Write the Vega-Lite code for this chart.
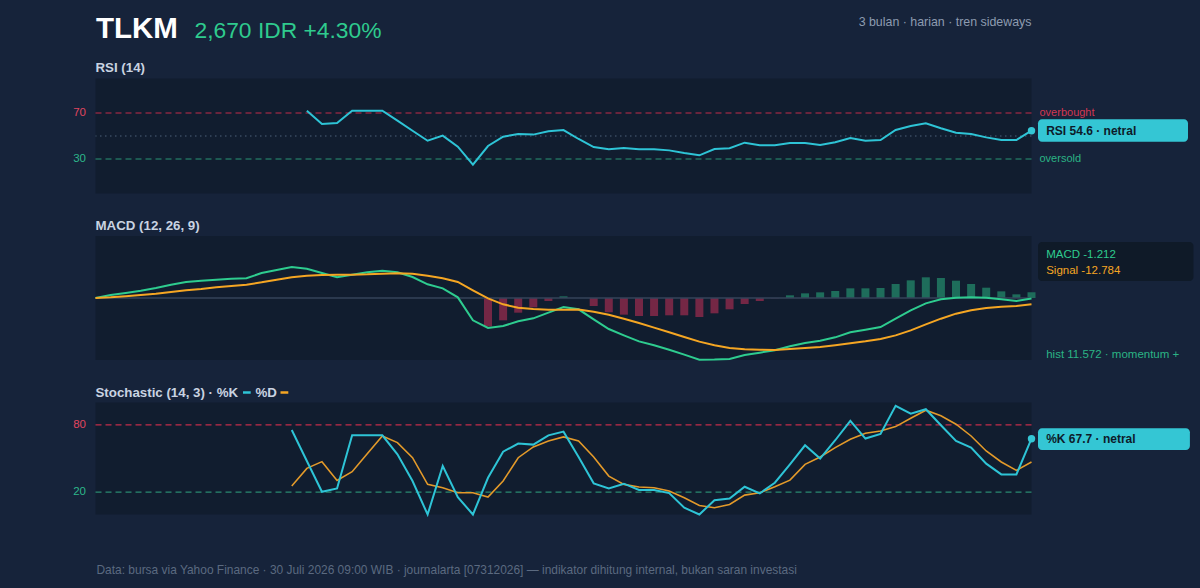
{
  "$schema": "https://vega.github.io/schema/vega-lite/v6.json",
  "background": "#16233a",
  "padding": {"left": 72.5, "top": 13.5, "right": 10, "bottom": 16},
  "bounds": "flush",
  "spacing": 42.5,
  "config": {
    "font": "Liberation Sans",
    "view": {"fill": "#111d2f", "stroke": null}
  },
  "datasets": {
    "ind": [
      {"idx": 0, "macd": 0, "signal": 0},
      {"idx": 1, "macd": 6.0, "signal": 1.3},
      {"idx": 2, "macd": 10.1, "signal": 3.4},
      {"idx": 3, "macd": 14.8, "signal": 6.0},
      {"idx": 4, "macd": 20.2, "signal": 8.7},
      {"idx": 5, "macd": 26.9, "signal": 12.1},
      {"idx": 6, "macd": 32.3, "signal": 15.5},
      {"idx": 7, "macd": 34.9, "signal": 18.1},
      {"idx": 8, "macd": 37.0, "signal": 21.5},
      {"idx": 9, "macd": 39.0, "signal": 24.2},
      {"idx": 10, "macd": 39.7, "signal": 26.9},
      {"idx": 11, "macd": 50.4, "signal": 31.6},
      {"idx": 12, "macd": 56.5, "signal": 37.0},
      {"idx": 13, "macd": 62.5, "signal": 41.7, "k": 75.5, "d": 25.4},
      {"idx": 14, "rsi": 72.0, "macd": 59.1, "signal": 45.0, "k": 47.8, "d": 41.2},
      {"idx": 15, "rsi": 60.4, "macd": 50.4, "signal": 46.4, "k": 20.3, "d": 47.2},
      {"idx": 16, "rsi": 61.3, "macd": 41.7, "signal": 47.0, "k": 23.3, "d": 30.4},
      {"idx": 17, "rsi": 72.0, "macd": 47.0, "signal": 47.0, "k": 70.7, "d": 38.2},
      {"idx": 18, "rsi": 72.0, "macd": 51.7, "signal": 47.7, "k": 70.7, "d": 54.3},
      {"idx": 19, "rsi": 72.0, "macd": 55.1, "signal": 49.1, "k": 70.7, "d": 70.1},
      {"idx": 20, "rsi": 63.3, "macd": 51.7, "signal": 49.7, "k": 53.7, "d": 64.2},
      {"idx": 21, "rsi": 54.6, "macd": 42.3, "signal": 49.1, "k": 29.9, "d": 50.7},
      {"idx": 22, "rsi": 45.9, "macd": 27.6, "signal": 45.0, "k": 0, "d": 26.9},
      {"idx": 23, "rsi": 50.3, "macd": 19.5, "signal": 39.7, "k": 43.3, "d": 23.9},
      {"idx": 24, "rsi": 40.7, "macd": 1.3, "signal": 32.3, "k": 15.5, "d": 19.4},
      {"idx": 25, "rsi": 25.1, "macd": -45.0, "signal": 15.5, "k": 0, "d": 19.4},
      {"idx": 26, "rsi": 41.3, "macd": -60.5, "signal": -0.7, "hist": -57.5, "k": 32.8, "d": 15.5},
      {"idx": 27, "rsi": 49.4, "macd": -56.5, "signal": -12.8, "hist": -45.0, "k": 56.1, "d": 29.9},
      {"idx": 28, "rsi": 51.7, "macd": -47.0, "signal": -19.5, "hist": -29.6, "k": 63.3, "d": 50.7},
      {"idx": 29, "rsi": 51.2, "macd": -41.0, "signal": -22.2, "hist": -18.8, "k": 62.4, "d": 60.3},
      {"idx": 30, "rsi": 54.1, "macd": -29.6, "signal": -23.5, "hist": -6.0, "k": 70.7, "d": 65.7},
      {"idx": 31, "rsi": 55.2, "macd": -18.1, "signal": -23.5, "hist": 3.4, "k": 74.0, "d": 69.3},
      {"idx": 32, "rsi": 47.4, "macd": -22.8, "signal": -23.2, "k": 51.3, "d": 65.7},
      {"idx": 33, "rsi": 40.4, "macd": -43.0, "signal": -27.6, "hist": -16.1, "k": 27.8, "d": 51.3},
      {"idx": 34, "rsi": 38.4, "macd": -62.5, "signal": -33.6, "hist": -28.9, "k": 23.3, "d": 34.3},
      {"idx": 35, "rsi": 39.6, "macd": -75.3, "signal": -41.7, "hist": -33.6, "k": 27.5, "d": 26.9},
      {"idx": 36, "rsi": 38.4, "macd": -87.4, "signal": -50.4, "hist": -36.3, "k": 21.9, "d": 24.5},
      {"idx": 37, "rsi": 38.4, "macd": -95.4, "signal": -59.8, "hist": -36.3, "k": 21.8, "d": 23.9},
      {"idx": 38, "rsi": 37.5, "macd": -104.2, "signal": -69.2, "hist": -34.9, "k": 19.1, "d": 20.9},
      {"idx": 39, "rsi": 35.2, "macd": -114.2, "signal": -78.6, "hist": -34.9, "k": 6.0, "d": 14.9},
      {"idx": 40, "rsi": 33.2, "macd": -124.6, "signal": -88.0, "hist": -38.3, "k": 0, "d": 8.1},
      {"idx": 41, "rsi": 38.7, "macd": -124.2, "signal": -95.4, "hist": -30.9, "k": 12.8, "d": 6.0},
      {"idx": 42, "rsi": 39.3, "macd": -123.0, "signal": -100.8, "hist": -22.8, "k": 14.3, "d": 9.0},
      {"idx": 43, "rsi": 44.2, "macd": -114.9, "signal": -103.5, "hist": -12.1, "k": 24.8, "d": 17.3},
      {"idx": 44, "rsi": 41.9, "macd": -110.2, "signal": -104.2, "hist": -6.0, "k": 18.8, "d": 19.4},
      {"idx": 45, "rsi": 41.9, "macd": -105.5, "signal": -105.0, "hist": -0.5, "k": 28.4, "d": 24.8},
      {"idx": 46, "rsi": 43.9, "macd": -97.4, "signal": -102.8, "hist": 5.4, "k": 44.8, "d": 30.7},
      {"idx": 47, "rsi": 43.9, "macd": -90.7, "signal": -100.8, "hist": 9.4, "k": 61.8, "d": 44.8},
      {"idx": 48, "rsi": 42.2, "macd": -86.0, "signal": -98.8, "hist": 11.4, "k": 49.9, "d": 51.3},
      {"idx": 49, "rsi": 44.5, "macd": -79.3, "signal": -95.4, "hist": 14.1, "k": 66.3, "d": 59.7},
      {"idx": 50, "rsi": 48.3, "macd": -69.2, "signal": -91.4, "hist": 19.5, "k": 83.6, "d": 67.2},
      {"idx": 51, "rsi": 45.9, "macd": -63.8, "signal": -87.4, "hist": 19.5, "k": 67.8, "d": 72.5},
      {"idx": 52, "rsi": 46.5, "macd": -58.5, "signal": -82.7, "hist": 20.2, "k": 71.9, "d": 74.6},
      {"idx": 53, "rsi": 55.2, "macd": -41.7, "signal": -75.3, "hist": 28.2, "k": 97.0, "d": 78.5},
      {"idx": 54, "rsi": 58.7, "macd": -24.9, "signal": -65.2, "hist": 35.6, "k": 90.1, "d": 86.0},
      {"idx": 55, "rsi": 61.0, "macd": -10.8, "signal": -53.1, "hist": 41.7, "k": 94.0, "d": 93.1},
      {"idx": 56, "rsi": 56.7, "macd": -2.7, "signal": -41.7, "hist": 40.3, "k": 79.7, "d": 88.1},
      {"idx": 57, "rsi": 52.9, "macd": 0.7, "signal": -31.6, "hist": 34.9, "k": 65.7, "d": 80.6},
      {"idx": 58, "rsi": 51.7, "macd": 1.3, "signal": -24.9, "hist": 28.2, "k": 59.7, "d": 70.1},
      {"idx": 59, "rsi": 48.8, "macd": 0.7, "signal": -20.2, "hist": 20.8, "k": 45.4, "d": 56.7},
      {"idx": 60, "rsi": 46.5, "macd": -2.7, "signal": -17.5, "hist": 13.4, "k": 35.8, "d": 46.9},
      {"idx": 61, "rsi": 46.5, "macd": -6.0, "signal": -16.1, "hist": 7.4, "k": 35.8, "d": 39.4},
      {"idx": 62, "rsi": 54.6, "macd": -1.212, "signal": -12.784, "hist": 11.572, "k": 67.7, "d": 46.9}
    ],
    "levels": [
      {"panel": "rsi", "level": 70, "zone": "overbought"},
      {"panel": "rsi", "level": 30, "zone": "oversold"},
      {"panel": "rsi", "level": 50, "zone": "mid"},
      {"panel": "stoch", "level": 80, "zone": "overbought"},
      {"panel": "stoch", "level": 20, "zone": "oversold"}
    ],
    "badges": [
      {"panel": "rsi", "idx": 62, "value": 54.6, "label": "RSI 54.6 · netral"},
      {"panel": "stoch", "idx": 62, "value": 67.7, "label": "%K 67.7 · netral"}
    ],
    "notes": [
      {"key": "ticker", "text": "TLKM"},
      {"key": "price", "text": "2,670 IDR +4.30%"},
      {"key": "scope", "text": "3 bulan · harian · tren sideways"},
      {"key": "rsiTitle", "text": "RSI (14)"},
      {"key": "macdTitle", "text": "MACD (12, 26, 9)"},
      {"key": "stochTitle", "text": "Stochastic (14, 3) · %K"},
      {"key": "stochD", "text": "%D"},
      {"key": "macdVal", "text": "MACD -1.212"},
      {"key": "sigVal", "text": "Signal -12.784"},
      {"key": "histVal", "text": "hist 11.572 · momentum +"},
      {"key": "source", "text": "Data: bursa via Yahoo Finance · 30 Juli 2026 09:00 WIB · journalarta [07312026] — indikator dihitung internal, bukan saran investasi"}
    ]
  },
  "vconcat": [
    {
      "width": 936,
      "height": 115,
      "layer": [
        {
          "data": {"name": "levels"},
          "transform": [{"filter": "datum.panel === 'rsi' && datum.zone === 'overbought'"}],
          "mark": {"type": "rule", "stroke": "#c22d4b", "strokeDash": [6, 4], "strokeWidth": 1.2},
          "encoding": {
            "y": {"field": "level", "type": "quantitative", "scale": {"domain": [0, 100], "nice": false}, "axis": null}
          }
        },
        {
          "data": {"name": "levels"},
          "transform": [{"filter": "datum.panel === 'rsi' && datum.zone === 'oversold'"}],
          "mark": {"type": "rule", "stroke": "#2a9676", "strokeDash": [6, 4], "strokeWidth": 1.2},
          "encoding": {"y": {"field": "level", "type": "quantitative", "axis": null}}
        },
        {
          "data": {"name": "levels"},
          "transform": [{"filter": "datum.panel === 'rsi' && datum.zone === 'mid'"}],
          "mark": {"type": "rule", "stroke": "#3a4a61", "strokeDash": [1.5, 3.5], "strokeWidth": 1.3},
          "encoding": {"y": {"field": "level", "type": "quantitative", "axis": null}}
        },
        {
          "data": {"name": "levels"},
          "transform": [{"filter": "datum.panel === 'rsi' && datum.zone !== 'mid'"}],
          "mark": {"type": "text", "align": "right", "baseline": "middle", "dx": -9.5, "fontSize": 11.5},
          "encoding": {
            "x": {"datum": 0, "type": "quantitative", "axis": null},
            "y": {"field": "level", "type": "quantitative", "axis": null},
            "text": {"field": "level", "type": "quantitative"},
            "color": {"condition": {"test": "datum.zone === 'overbought'", "value": "#e0455f"}, "value": "#2db88a"}
          }
        },
        {
          "data": {"name": "levels"},
          "transform": [{"filter": "datum.panel === 'rsi' && datum.zone !== 'mid'"}],
          "mark": {"type": "text", "align": "left", "baseline": "middle", "dx": 8, "fontSize": 11},
          "encoding": {
            "x": {"datum": 62, "type": "quantitative", "axis": null},
            "y": {"field": "level", "type": "quantitative", "axis": null},
            "text": {"field": "zone"},
            "color": {"condition": {"test": "datum.zone === 'overbought'", "value": "#d23752"}, "value": "#2bb385"}
          }
        },
        {
          "data": {"name": "ind"},
          "mark": {"type": "line", "color": "#2ec4d6", "strokeWidth": 2},
          "encoding": {
            "x": {"field": "idx", "type": "quantitative", "scale": {"domain": [0, 62], "nice": false, "zero": false, "padding": 0}, "axis": null},
            "y": {"field": "rsi", "type": "quantitative", "axis": null}
          }
        },
        {
          "data": {"name": "badges"},
          "transform": [{"filter": "datum.panel === 'rsi'"}],
          "mark": {"type": "rect", "fill": "#34c6d4", "cornerRadius": 4, "xOffset": 6.5, "x2Offset": 156.5, "yOffset": -11.4, "y2Offset": 11},
          "encoding": {
            "x": {"field": "idx", "type": "quantitative", "axis": null},
            "x2": {"field": "idx"},
            "y": {"field": "value", "type": "quantitative", "axis": null},
            "y2": {"field": "value"}
          }
        },
        {
          "data": {"name": "badges"},
          "transform": [{"filter": "datum.panel === 'rsi'"}],
          "mark": {"type": "point", "filled": true, "color": "#34c6d4", "size": 55, "opacity": 1},
          "encoding": {
            "x": {"field": "idx", "type": "quantitative", "axis": null},
            "y": {"field": "value", "type": "quantitative", "axis": null}
          }
        },
        {
          "data": {"name": "badges"},
          "transform": [{"filter": "datum.panel === 'rsi'"}],
          "mark": {"type": "text", "align": "left", "baseline": "middle", "dx": 14.7, "fontSize": 12, "fontWeight": "bold", "color": "#0d1b2a"},
          "encoding": {
            "x": {"field": "idx", "type": "quantitative", "axis": null},
            "y": {"field": "value", "type": "quantitative", "axis": null},
            "text": {"field": "label"}
          }
        },
        {
          "data": {"name": "notes"},
          "transform": [{"filter": "datum.key === 'ticker'"}],
          "mark": {"type": "text", "align": "left", "baseline": "alphabetic", "dx": 0.5, "dy": -40.8, "fontSize": 29.5, "fontWeight": "bold", "color": "#ffffff"},
          "encoding": {"x": {"datum": 0, "type": "quantitative", "axis": null}, "y": {"datum": 100, "type": "quantitative", "axis": null}, "text": {"field": "text"}}
        },
        {
          "data": {"name": "notes"},
          "transform": [{"filter": "datum.key === 'price'"}],
          "mark": {"type": "text", "align": "left", "baseline": "alphabetic", "dx": 99, "dy": -40.8, "fontSize": 22.8, "color": "#2fcb8e"},
          "encoding": {"x": {"datum": 0, "type": "quantitative", "axis": null}, "y": {"datum": 100, "type": "quantitative", "axis": null}, "text": {"field": "text"}}
        },
        {
          "data": {"name": "notes"},
          "transform": [{"filter": "datum.key === 'scope'"}],
          "mark": {"type": "text", "align": "right", "baseline": "alphabetic", "dy": -52.3, "fontSize": 12.4, "color": "#8d9bb0"},
          "encoding": {"x": {"datum": 62, "type": "quantitative", "axis": null}, "y": {"datum": 100, "type": "quantitative", "axis": null}, "text": {"field": "text"}}
        },
        {
          "data": {"name": "notes"},
          "transform": [{"filter": "datum.key === 'rsiTitle'"}],
          "mark": {"type": "text", "align": "left", "baseline": "alphabetic", "dy": -6.3, "fontSize": 13.3, "fontWeight": "bold", "color": "#c9d3e1"},
          "encoding": {"x": {"datum": 0, "type": "quantitative", "axis": null}, "y": {"datum": 100, "type": "quantitative", "axis": null}, "text": {"field": "text"}}
        }
      ]
    },
    {
      "width": 936,
      "height": 124,
      "layer": [
        {
          "data": {"name": "ind"},
          "mark": {"type": "bar", "width": 8},
          "encoding": {
            "x": {"field": "idx", "type": "quantitative", "scale": {"domain": [0, 62], "nice": false, "zero": false, "padding": 0}, "axis": null},
            "y": {"field": "hist", "type": "quantitative", "scale": {"domain": [-125, 125], "nice": false}, "axis": null},
            "color": {"condition": {"test": "datum.hist >= 0", "value": "#1e6d5b"}, "value": "#742745"}
          }
        },
        {
          "data": {"values": [{"level": 0}]},
          "mark": {"type": "rule", "stroke": "#34435a", "strokeWidth": 1.5},
          "encoding": {"y": {"field": "level", "type": "quantitative", "axis": null}}
        },
        {
          "data": {"name": "ind"},
          "mark": {"type": "line", "color": "#2ecc8f", "strokeWidth": 2},
          "encoding": {
            "x": {"field": "idx", "type": "quantitative", "axis": null},
            "y": {"field": "macd", "type": "quantitative", "axis": null}
          }
        },
        {
          "data": {"name": "ind"},
          "mark": {"type": "line", "color": "#f5a623", "strokeWidth": 2},
          "encoding": {
            "x": {"field": "idx", "type": "quantitative", "axis": null},
            "y": {"field": "signal", "type": "quantitative", "axis": null}
          }
        },
        {
          "data": {"values": [{"panel": "macd"}]},
          "mark": {"type": "rect", "fill": "#0f1a28", "cornerRadius": 4, "xOffset": 6.5, "x2Offset": 162, "yOffset": 6, "y2Offset": 45},
          "encoding": {
            "x": {"datum": 62, "type": "quantitative", "axis": null},
            "x2": {"datum": 62},
            "y": {"datum": 125, "type": "quantitative", "axis": null},
            "y2": {"datum": 125}
          }
        },
        {
          "data": {"name": "notes"},
          "transform": [{"filter": "datum.key === 'macdVal'"}],
          "mark": {"type": "text", "align": "left", "baseline": "alphabetic", "dx": 14.7, "dy": 22, "fontSize": 11.5, "color": "#2ecc8f"},
          "encoding": {"x": {"datum": 62, "type": "quantitative", "axis": null}, "y": {"datum": 125, "type": "quantitative", "axis": null}, "text": {"field": "text"}}
        },
        {
          "data": {"name": "notes"},
          "transform": [{"filter": "datum.key === 'sigVal'"}],
          "mark": {"type": "text", "align": "left", "baseline": "alphabetic", "dx": 14.7, "dy": 38, "fontSize": 11.5, "color": "#f5a623"},
          "encoding": {"x": {"datum": 62, "type": "quantitative", "axis": null}, "y": {"datum": 125, "type": "quantitative", "axis": null}, "text": {"field": "text"}}
        },
        {
          "data": {"name": "notes"},
          "transform": [{"filter": "datum.key === 'histVal'"}],
          "mark": {"type": "text", "align": "left", "baseline": "alphabetic", "dx": 14.7, "dy": -2, "fontSize": 11.5, "color": "#2bb385"},
          "encoding": {"x": {"datum": 62, "type": "quantitative", "axis": null}, "y": {"datum": -125, "type": "quantitative", "axis": null}, "text": {"field": "text"}}
        },
        {
          "data": {"name": "notes"},
          "transform": [{"filter": "datum.key === 'macdTitle'"}],
          "mark": {"type": "text", "align": "left", "baseline": "alphabetic", "dy": -6.3, "fontSize": 13.3, "fontWeight": "bold", "color": "#c9d3e1"},
          "encoding": {"x": {"datum": 0, "type": "quantitative", "axis": null}, "y": {"datum": 125, "type": "quantitative", "axis": null}, "text": {"field": "text"}}
        }
      ]
    },
    {
      "width": 936,
      "height": 112,
      "layer": [
        {
          "data": {"name": "levels"},
          "transform": [{"filter": "datum.panel === 'stoch' && datum.zone === 'overbought'"}],
          "mark": {"type": "rule", "stroke": "#c22d4b", "strokeDash": [6, 4], "strokeWidth": 1.2},
          "encoding": {
            "y": {"field": "level", "type": "quantitative", "scale": {"domain": [0, 100], "nice": false}, "axis": null}
          }
        },
        {
          "data": {"name": "levels"},
          "transform": [{"filter": "datum.panel === 'stoch' && datum.zone === 'oversold'"}],
          "mark": {"type": "rule", "stroke": "#2a8a70", "strokeDash": [6, 4], "strokeWidth": 1.2},
          "encoding": {"y": {"field": "level", "type": "quantitative", "axis": null}}
        },
        {
          "data": {"name": "levels"},
          "transform": [{"filter": "datum.panel === 'stoch'"}],
          "mark": {"type": "text", "align": "right", "baseline": "middle", "dx": -9.5, "fontSize": 11.5},
          "encoding": {
            "x": {"datum": 0, "type": "quantitative", "axis": null},
            "y": {"field": "level", "type": "quantitative", "axis": null},
            "text": {"field": "level", "type": "quantitative"},
            "color": {"condition": {"test": "datum.zone === 'overbought'", "value": "#e0455f"}, "value": "#2db88a"}
          }
        },
        {
          "data": {"name": "ind"},
          "mark": {"type": "line", "color": "#e39a2a", "strokeWidth": 1.6},
          "encoding": {
            "x": {"field": "idx", "type": "quantitative", "scale": {"domain": [0, 62], "nice": false, "zero": false, "padding": 0}, "axis": null},
            "y": {"field": "d", "type": "quantitative", "axis": null}
          }
        },
        {
          "data": {"name": "ind"},
          "mark": {"type": "line", "color": "#2ec4d6", "strokeWidth": 2},
          "encoding": {
            "x": {"field": "idx", "type": "quantitative", "axis": null},
            "y": {"field": "k", "type": "quantitative", "axis": null}
          }
        },
        {
          "data": {"name": "badges"},
          "transform": [{"filter": "datum.panel === 'stoch'"}],
          "mark": {"type": "rect", "fill": "#34c6d4", "cornerRadius": 4, "xOffset": 6.5, "x2Offset": 158.4, "yOffset": -10.4, "y2Offset": 11.3},
          "encoding": {
            "x": {"field": "idx", "type": "quantitative", "axis": null},
            "x2": {"field": "idx"},
            "y": {"field": "value", "type": "quantitative", "axis": null},
            "y2": {"field": "value"}
          }
        },
        {
          "data": {"name": "badges"},
          "transform": [{"filter": "datum.panel === 'stoch'"}],
          "mark": {"type": "point", "filled": true, "color": "#34c6d4", "size": 55, "opacity": 1},
          "encoding": {
            "x": {"field": "idx", "type": "quantitative", "axis": null},
            "y": {"field": "value", "type": "quantitative", "axis": null}
          }
        },
        {
          "data": {"name": "badges"},
          "transform": [{"filter": "datum.panel === 'stoch'"}],
          "mark": {"type": "text", "align": "left", "baseline": "middle", "dx": 14.7, "dy": 0.5, "fontSize": 12, "fontWeight": "bold", "color": "#0d1b2a"},
          "encoding": {
            "x": {"field": "idx", "type": "quantitative", "axis": null},
            "y": {"field": "value", "type": "quantitative", "axis": null},
            "text": {"field": "label"}
          }
        },
        {
          "data": {"name": "notes"},
          "transform": [{"filter": "datum.key === 'stochTitle'"}],
          "mark": {"type": "text", "align": "left", "baseline": "alphabetic", "dy": -5.8, "fontSize": 13.3, "fontWeight": "bold", "color": "#c9d3e1"},
          "encoding": {"x": {"datum": 0, "type": "quantitative", "axis": null}, "y": {"datum": 100, "type": "quantitative", "axis": null}, "text": {"field": "text"}}
        },
        {
          "data": {"name": "notes"},
          "transform": [{"filter": "datum.key === 'stochD'"}],
          "mark": {"type": "text", "align": "left", "baseline": "alphabetic", "dx": 160, "dy": -5.8, "fontSize": 13.3, "fontWeight": "bold", "color": "#c9d3e1"},
          "encoding": {"x": {"datum": 0, "type": "quantitative", "axis": null}, "y": {"datum": 100, "type": "quantitative", "axis": null}, "text": {"field": "text"}}
        },
        {
          "data": {"values": [{"series": "%K"}]},
          "mark": {"type": "rule", "stroke": "#2ec4d6", "strokeWidth": 2.5, "xOffset": 147.5, "x2Offset": 155.2, "yOffset": -10},
          "encoding": {"x": {"datum": 0, "type": "quantitative", "axis": null}, "x2": {"datum": 0}, "y": {"datum": 100, "type": "quantitative", "axis": null}}
        },
        {
          "data": {"values": [{"series": "%D"}]},
          "mark": {"type": "rule", "stroke": "#f5a623", "strokeWidth": 2.5, "xOffset": 185, "x2Offset": 192.8, "yOffset": -10},
          "encoding": {"x": {"datum": 0, "type": "quantitative", "axis": null}, "x2": {"datum": 0}, "y": {"datum": 100, "type": "quantitative", "axis": null}}
        },
        {
          "data": {"name": "notes"},
          "transform": [{"filter": "datum.key === 'source'"}],
          "mark": {"type": "text", "align": "left", "baseline": "alphabetic", "dx": 1, "dy": 59, "fontSize": 11.95, "color": "#5b6a80"},
          "encoding": {"x": {"datum": 0, "type": "quantitative", "axis": null}, "y": {"datum": 0, "type": "quantitative", "axis": null}, "text": {"field": "text"}}
        }
      ]
    }
  ]
}
